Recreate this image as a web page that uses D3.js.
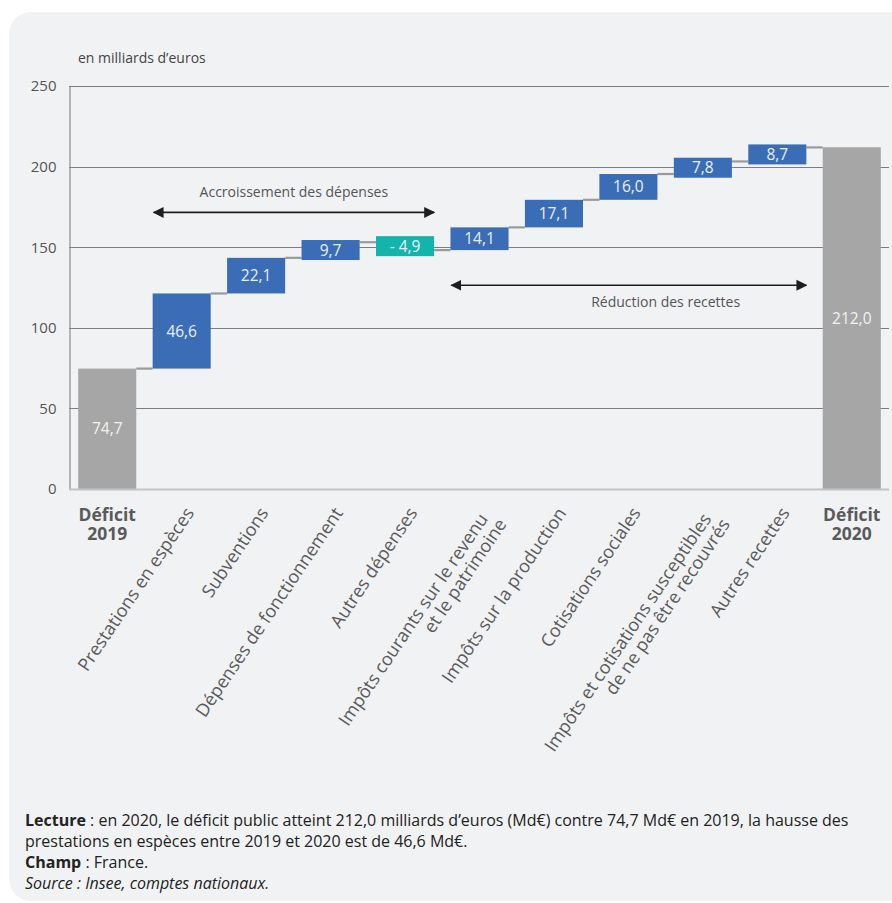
<!DOCTYPE html>
<html lang="fr">
<head>
<meta charset="utf-8">
<script src="https://cdn.jsdelivr.net/npm/d3@7"></script>
<style>
  html, body { margin: 0; padding: 0; background: #ffffff; }
  svg { display: block; font-family: "Open Sans", "Noto Sans", sans-serif; }
</style>
</head>
<body>
<svg id="chart" width="892" height="903"></svg>
<script>
// ---------- DATA ----------
const categories = [
  "Déficit\n2019",
  "Prestations en espèces",
  "Subventions",
  "Dépenses de fonctionnement",
  "Autres dépenses",
  "Impôts courants sur le revenu\net le patrimoine",
  "Impôts sur la production",
  "Cotisations sociales",
  "Impôts et cotisations susceptibles\nde ne pas être recouvrés",
  "Autres recettes",
  "Déficit\n2020"
];
const values = [74.7, 46.6, 22.1, 9.7, -4.9, 14.1, 17.1, 16.0, 7.8, 8.7, 212.0];
const kinds  = ["total", "up", "up", "up", "down", "up", "up", "up", "up", "up", "total"];
const yTicks = [0, 50, 100, 150, 200, 250];
const annotations = [
  { text: "Accroissement des dépenses", from: 1, to: 4, value: 171.6, textAbove: true,  textFrom: 1, textTo: 4 },
  { text: "Réduction des recettes",     from: 5, to: 9, value: 126.4, textAbove: false, textFrom: 7, textTo: 8 }
];
const unitLabel = "en milliards d\u2019euros";

// ---------- STYLE ----------
const colors = { total: "#a6a6a6", up: "#3a6db6", down: "#13b4ac" };

const svg = d3.select("#chart");

// card background
svg.append("rect").attr("x", 9).attr("y", 12).attr("width", 920).attr("height", 889)
  .attr("rx", 22).attr("fill", "#f1f2f4");

const x = d3.scaleBand().domain(categories).range([70, 889]).paddingInner(0.22).paddingOuter(0.11);
const y = d3.scaleLinear().domain([0, 250]).range([489, 86]);
const bw = x.bandwidth();
const cxOf = i => x(categories[i]) + bw / 2;

// compute waterfall steps
let cum = 0;
const steps = categories.map((c, i) => {
  let start, end;
  if (kinds[i] === "total") { start = 0; end = values[i]; cum = values[i]; }
  else { start = cum; end = cum + values[i]; cum = end; }
  return { cat: c, value: values[i], kind: kinds[i], start, end, i };
});

// gridlines
svg.append("g").selectAll("line").data(yTicks.filter(d => d > 0)).join("line")
  .attr("x1", 69).attr("x2", 889)
  .attr("y1", d => Math.round(y(d)) + 0.5).attr("y2", d => Math.round(y(d)) + 0.5)
  .attr("stroke", "#7d7d7d").attr("stroke-width", 1);

// y axis
const yAxis = d3.axisLeft(y).tickValues(yTicks).tickSize(0).tickPadding(13);
const gy = svg.append("g").attr("transform", "translate(69.5,0)").call(yAxis);
gy.select(".domain").attr("stroke", "#8a8a8a").attr("stroke-width", 1.2);
gy.selectAll("text").attr("font-size", 15).attr("fill", "#555").attr("font-family", "'Open Sans', sans-serif");

// unit label
svg.append("text").attr("x", 78).attr("y", 63).text(unitLabel)
  .attr("font-size", 14).attr("fill", "#444");

// connectors
const conn = [];
for (let i = 0; i < steps.length - 1; i++) {
  conn.push({ x1: x(steps[i].cat) + bw, x2: x(steps[i + 1].cat), v: steps[i].end });
}
svg.append("g").selectAll("line").data(conn).join("line")
  .attr("x1", d => d.x1).attr("x2", d => d.x2)
  .attr("y1", d => y(d.v)).attr("y2", d => y(d.v))
  .attr("stroke", "#9a9a9a").attr("stroke-width", 2.2);

// bars (with a minimum visual height so labels fit)
const minH = 20;
function barBox(d) {
  let t = Math.min(y(d.start), y(d.end)), b = Math.max(y(d.start), y(d.end));
  if (b - t < minH) { const m = (t + b) / 2; t = m - minH / 2; b = m + minH / 2; }
  return { t, b };
}
const bars = svg.append("g").selectAll("g").data(steps).join("g");
bars.append("rect")
  .attr("x", d => x(d.cat)).attr("width", bw)
  .attr("y", d => barBox(d).t).attr("height", d => barBox(d).b - barBox(d).t)
  .attr("fill", d => colors[d.kind]);
const fmt = d3.format(".1f");
bars.append("text")
  .attr("x", d => x(d.cat) + bw / 2)
  .attr("y", d => (barBox(d).t + barBox(d).b) / 2)
  .attr("dy", "0.36em").attr("text-anchor", "middle")
  .attr("font-size", 15.5).attr("fill", d => d.kind === "total" ? "#f2f2f2" : "#eaf0fa")
  .text(d => (d.value < 0 ? "- " + fmt(-d.value) : fmt(d.value)).replace(".", ","));

// x axis baseline
svg.append("line").attr("x1", 69).attr("x2", 889).attr("y1", 489.5).attr("y2", 489.5)
  .attr("stroke", "#c4c4c4").attr("stroke-width", 2);

// category labels
const angle = -56;
steps.forEach(d => {
  const cx = x(d.cat) + bw / 2;
  const lines = d.cat.split("\n");
  if (d.kind === "total") {
    const t = svg.append("text").attr("text-anchor", "middle").attr("font-size", 17.5)
      .attr("font-weight", "bold").attr("fill", "#5a5a5a");
    lines.forEach((l, k) => t.append("tspan").attr("x", cx).attr("y", 521 + k * 18.5).text(l));
  } else {
    const g = svg.append("g").attr("transform", `translate(${cx + 13},${513}) rotate(${angle})`);
    const lh = 18.5;
    const multi = lines.length > 1;
    lines.forEach((l, k) => g.append("text").attr("font-size", 18).attr("fill", "#5a5a5a")
      .attr("text-anchor", "end").attr("x", multi ? (k === 0 ? -7 : -1) : 0).attr("y", k * lh).text(l));
  }
});

// annotations (double arrows)
const defs = svg.append("defs");
defs.append("marker").attr("id", "ah").attr("viewBox", "0 0 10 10").attr("refX", 9).attr("refY", 5)
  .attr("markerWidth", 11).attr("markerHeight", 12).attr("markerUnits", "userSpaceOnUse")
  .attr("orient", "auto-start-reverse")
  .append("path").attr("d", "M0,0L10,5L0,10Z").attr("fill", "#1e1e1e");
annotations.forEach(a => {
  const x1 = x(categories[a.from]) + 1, x2 = x(categories[a.to]) + bw;
  const yy = y(a.value);
  svg.append("line").attr("x1", x1).attr("x2", x2).attr("y1", yy).attr("y2", yy)
    .attr("stroke", "#1e1e1e").attr("stroke-width", 1.6)
    .attr("marker-start", "url(#ah)").attr("marker-end", "url(#ah)");
  const tx = (a.textFrom === a.from && a.textTo === a.to) ? (x1 + x2) / 2 : (cxOf(a.textFrom) + cxOf(a.textTo)) / 2;
  svg.append("text").attr("x", tx).attr("y", a.textAbove ? yy - 15 : yy + 22)
    .attr("text-anchor", "middle").attr("font-size", 14).attr("fill", "#555").text(a.text);
});

// footnotes
const foot = svg.append("g").attr("font-size", 16).attr("fill", "#222");
const f1 = foot.append("text").attr("x", 25).attr("y", 826);
f1.append("tspan").attr("font-weight", "bold").text("Lecture");
f1.append("tspan").text(" : en 2020, le déficit public atteint 212,0 milliards d\u2019euros (Md\u20ac) contre 74,7 Md\u20ac en 2019, la hausse des");
foot.append("text").attr("x", 25).attr("y", 847).text("prestations en espèces entre 2019 et 2020 est de 46,6 Md\u20ac.");
const f3 = foot.append("text").attr("x", 25).attr("y", 868);
f3.append("tspan").attr("font-weight", "bold").text("Champ");
f3.append("tspan").text(" : France.");
foot.append("text").attr("x", 25).attr("y", 889).attr("font-style", "italic").text("Source : Insee, comptes nationaux.");
</script>
</body>
</html>
